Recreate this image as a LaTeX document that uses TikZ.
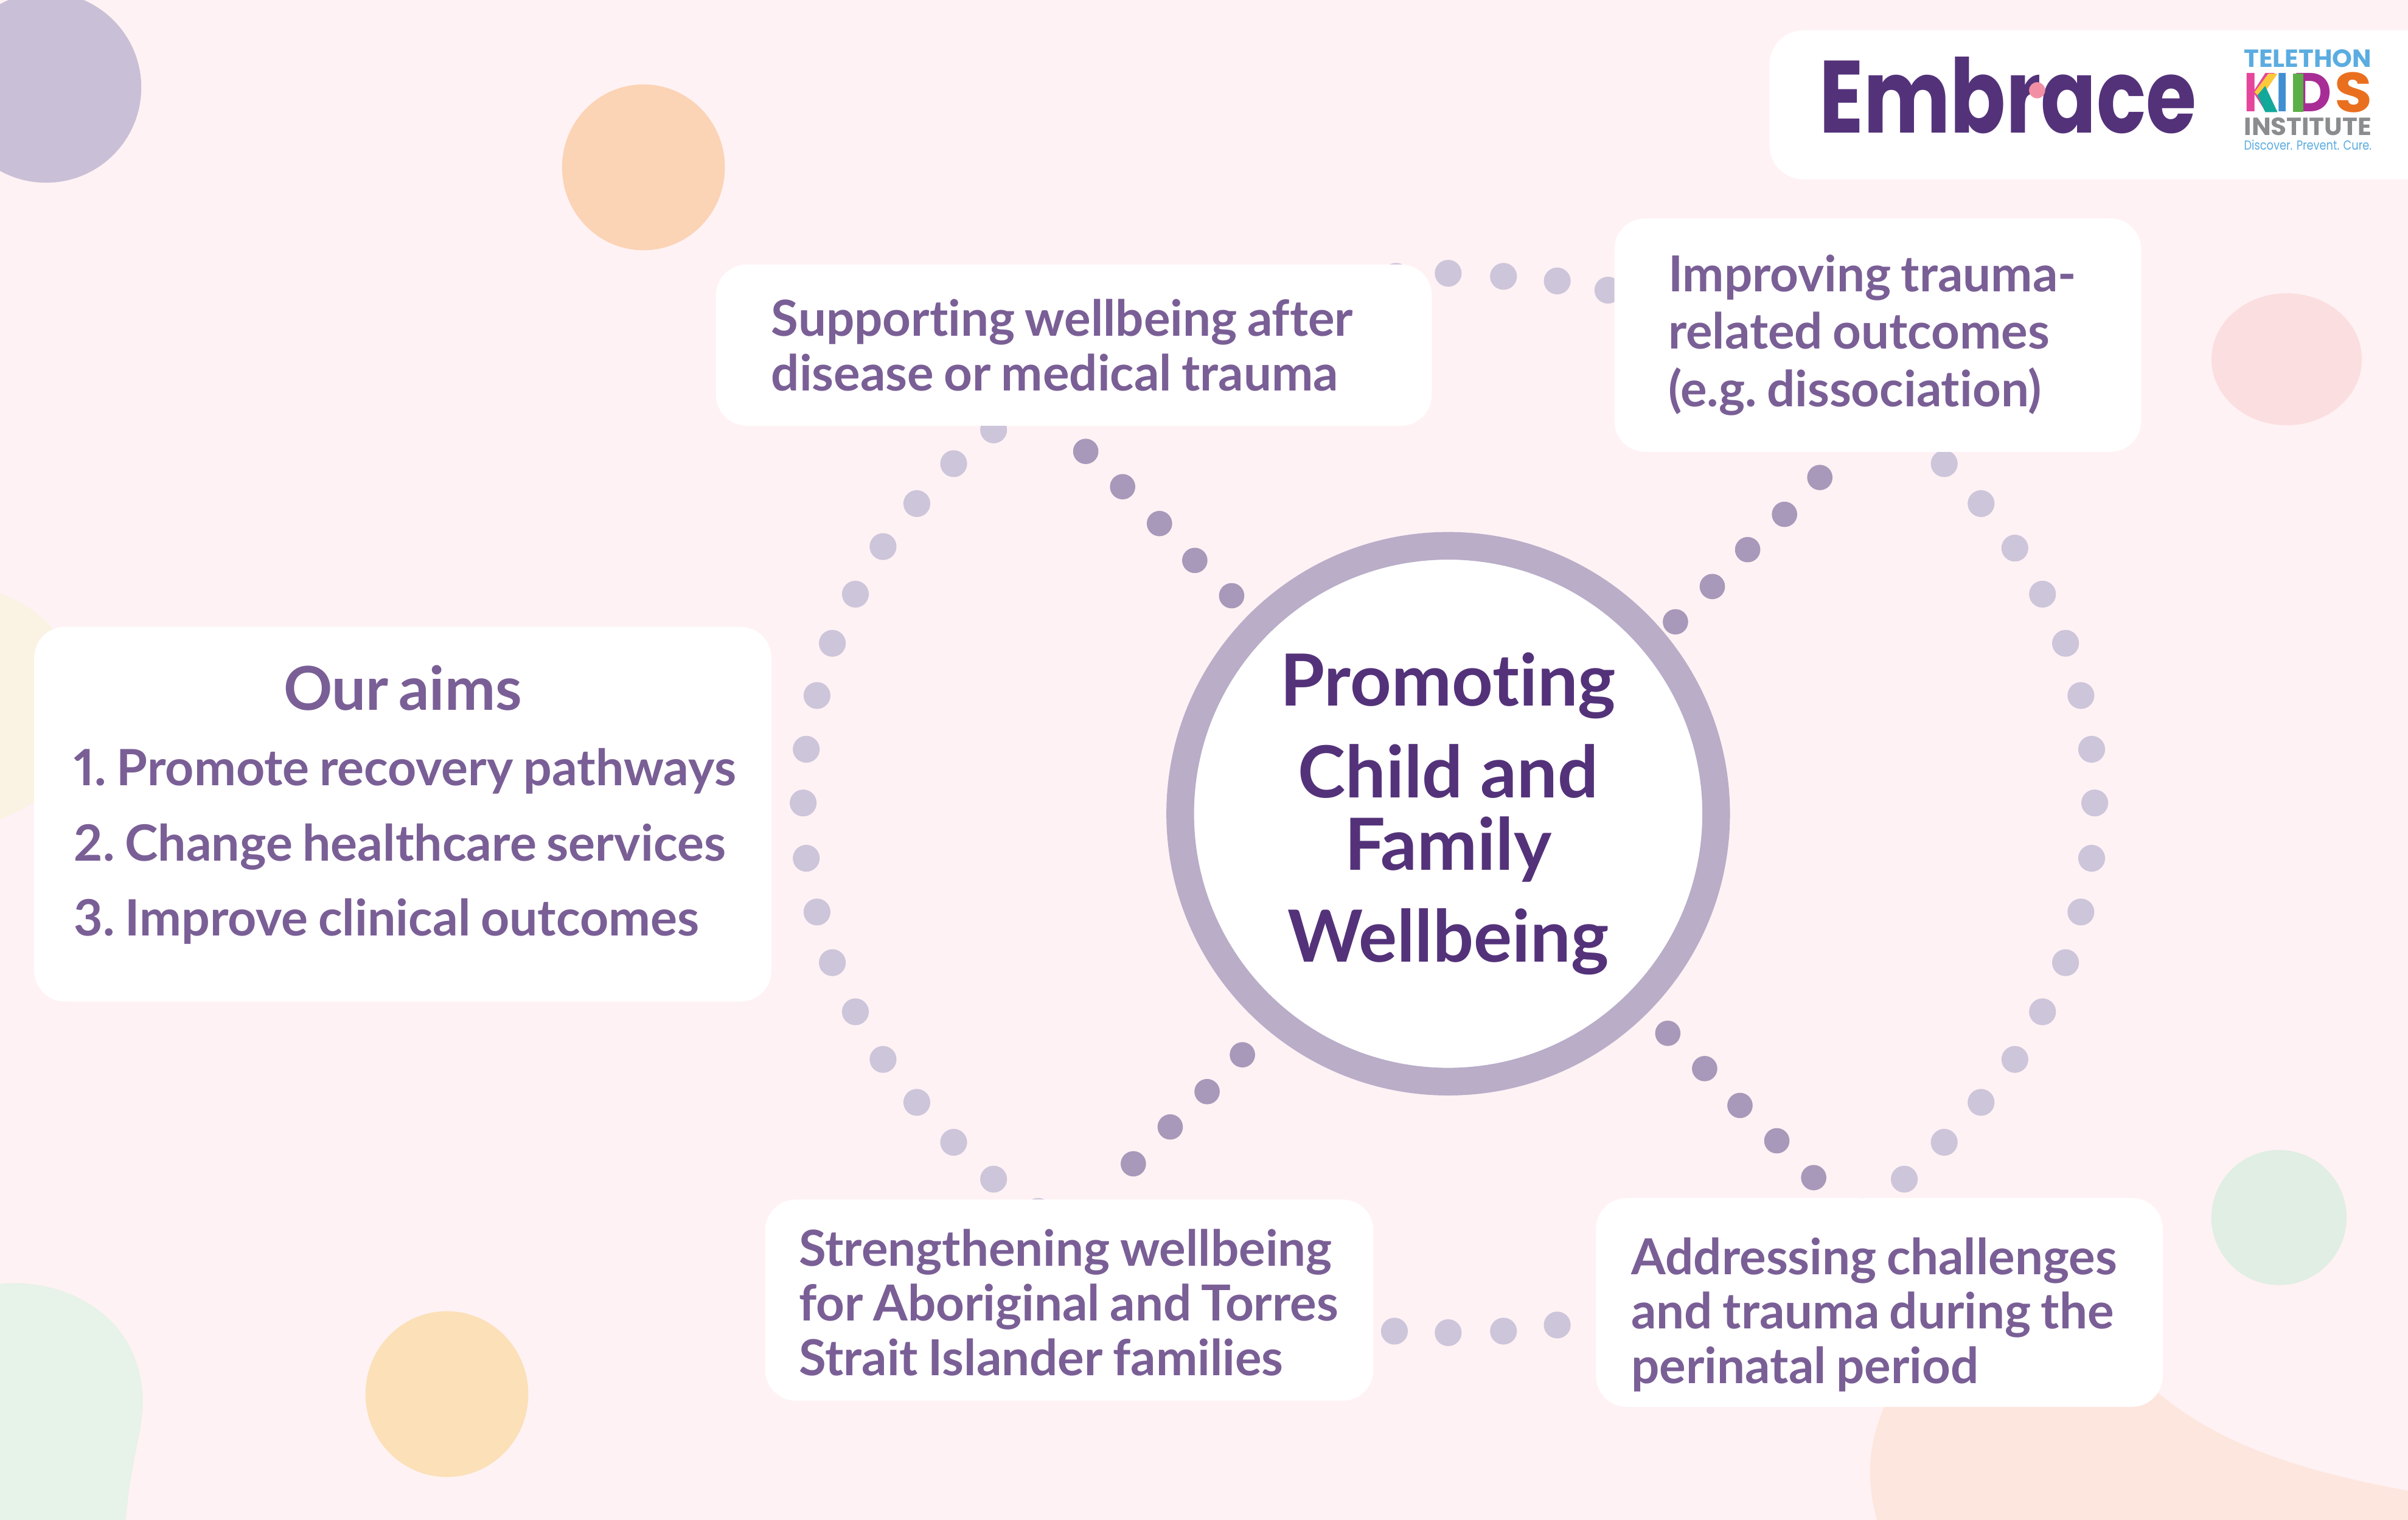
\documentclass[tikz,border=0pt]{standalone}
\usepackage{fontspec}
\usepackage{graphicx}
\setmainfont{Lato}[Ligatures=NoCommon,Numbers=Proportional]
\newfontfamily\logofont{Poppins}
\newdimen\myu \myu=0.025cm
\definecolor{bgpink}{HTML}{FFF2F4}
\definecolor{txtpurple}{HTML}{7A5F96}
\definecolor{deeppurple}{HTML}{54327A}
\definecolor{ringc}{HTML}{B9ADC8}
\definecolor{lightd}{HTML}{CDC5DA}
\definecolor{darkd}{HTML}{A898B9}
\definecolor{kidblue}{HTML}{5BACE0}
\definecolor{kidpink}{HTML}{E5459B}
\definecolor{kidyellow}{HTML}{FBC93B}
\definecolor{kidteal}{HTML}{12A89A}
\definecolor{kidlblue}{HTML}{3F8FD2}
\definecolor{kidgreen}{HTML}{5BAF47}
\definecolor{kidpurple}{HTML}{A82C96}
\definecolor{kidorange}{HTML}{E96F1E}
\definecolor{kidgrey}{HTML}{8A8C8E}
\tikzset{
  cardbox/.style n args={3}{draw=none,fill=white,rounded corners=20*\myu,anchor=north west,inner sep=0pt,
    minimum width=#1*\myu,minimum height=#2*\myu,text width=#1*\myu,align=left,text=txtpurple,
    font=\fontsize{23pt}{25.3pt}\selectfont\bfseries,
    execute at begin node={\leftskip=#3\myu\relax\spaceskip=6.5\myu\relax\xspaceskip=6.5\myu\relax}},
  lightdot/.style={circle,fill=lightd,inner sep=0pt,minimum size=17.5*\myu},
  darkdot/.style={circle,fill=darkd,inner sep=0pt,minimum size=16.5*\myu},
  logotext/.style={inner sep=0pt,anchor=south west},
}
\begin{document}
\begin{tikzpicture}[x=0.025cm,y=-0.025cm]
\useasboundingbox (0,0) rectangle (1568,989.9);
\clip (0,0) rectangle (1568,989.9);
\fill[bgpink] (0,0) rectangle (1568,990);
% background blobs
\fill[fill={rgb,255:red,201;green,191;blue,214}] (30,57) ellipse [x radius=62,y radius=62];
\fill[fill={rgb,255:red,251;green,211;blue,181}] (419,109) ellipse [x radius=53,y radius=54];
\fill[fill={rgb,255:red,251;green,223;blue,224}] (1489,234) ellipse [x radius=49,y radius=43];
\fill[fill={rgb,255:red,224;green,238;blue,227}] (1484,793) ellipse [x radius=44,y radius=44];
\fill[fill={rgb,255:red,251;green,224;blue,184}] (291,908) ellipse [x radius=53,y radius=54];
\fill[fill={rgb,255:red,250;green,243;blue,227}] (-24.4,460) ellipse [x radius=77.4,y radius=77.4];
\fill[fill={rgb,255:red,231;green,242;blue,232}] (-10,990) -- (-10,838) .. controls (30,828) and (92,850) .. (93,912) .. controls (93,935) and (85,950) .. (82,990) -- cycle;
\fill[fill={rgb,255:red,253;green,230;blue,222}] (1222,990) .. controls (1216,965) and (1215,945) .. (1227,916) .. controls (1260,860) and (1350,860) .. (1405,907) .. controls (1450,945) and (1510,960) .. (1568,971) -- (1568,990) -- cycle;
% dotted rings
\foreach \x/\y [count=\i] in {647/280,621/302,597/328,575/356,557/387,542/419,532/453,525/488,523/523,525/559,532/594,542/627,557/659,575/690,597/718,621/744,647/768,676/789,
 909/180,943/178,979/180,1014/183,1047/189,
 1266/302,1290/328,1312/357,1330/387,1345/419,1355/453,1362/488,1364/523,1362/559,1355/594,1345/627,1330/659,1312/690,1290/718,1266/744,1240/768,1212/789,
 908/867,943/868,979/867,1014/863}
  \node[lightdot] (ld\i) at (\x,\y) {};
\foreach \x/\y [count=\i] in {707/294,731/317,755/341,778/365,802/388,
 1185/311,1162/335,1138/358,1115/382,1091/405,
 809/687,786/711,762/734,738/758,
 1086/673,1110/696,1133/720,1157/743,1181/767}
  \node[darkdot] (dd\i) at (\x,\y) {};
% centre
\node[circle,draw=ringc,line width=18*\myu,fill=white,inner sep=0pt,minimum size=349*\myu,align=center,text=deeppurple,
  font=\fontsize{33.3pt}{33.4pt}\selectfont\bfseries] (hub) at (943,530)
  {Promoting\\[13\myu]Child and\\Family\\[13\myu]Wellbeing};
% cards
\node[cardbox={466}{105}{36}] (c1) at (466,172) {Supporting wellbeing after\\disease or medical trauma};
\node[cardbox={343}{152}{35},font=\fontsize{23pt}{26.7pt}\selectfont\bfseries] (c2) at (1051,142) {Improving trauma-\\related outcomes\\(e.g. dissociation)};
\node[cardbox={396}{131}{22}] (c3) at (498,781) {\rule{0pt}{27\myu}Strengthening wellbeing\\for Aboriginal and Torres\\Strait Islander families};
\node[cardbox={369}{136}{23}] (c4) at (1039,780) {\rule{0pt}{40\myu}Addressing challenges\\and trauma during the\\perinatal period};
\node[cardbox={480}{244}{26},font=\fontsize{23.2pt}{34.85pt}\selectfont\bfseries] (aims) at (22,408)
  {\hspace*{-26\myu}\makebox[480\myu][c]{\fontsize{28pt}{30pt}\selectfont Our aims}\\1. Promote recovery pathways\\2. Change healthcare services\\3. Improve clinical outcomes\par\vspace*{12\myu}};
% logo panel
\node[fill=white,rounded corners=22*\myu,anchor=north west,inner sep=0pt,minimum width=460*\myu,minimum height=97*\myu] (panel) at (1152,19.5) {};
\node[logotext,text=deeppurple] (embrace) at (1184.5,87.5) {\resizebox{245.5\myu}{49.5\myu}{\logofont\bfseries Embrace}};
\node[circle,fill={rgb,255:red,243;green,143;blue,165},inner sep=0pt,minimum size=10.5*\myu] (edot) at (1326.5,58.8) {};
\node[logotext,text=kidblue] (tele) at (1461,44) {\resizebox{83\myu}{11.5\myu}{\logofont\bfseries TELETHON}};
\node[logotext,text=kidpink] (kk) at (1461,73) {\resizebox{21\myu}{25\myu}{\logofont\bfseries K}};
\node[logotext,text=kidlblue] (ki) at (1482,73) {\resizebox{8\myu}{25\myu}{\logofont\bfseries I}};
\node[logotext,text=kidpurple] (kd) at (1493,73) {\resizebox{25\myu}{25\myu}{\logofont\bfseries D}};
\node[logotext,text=kidorange] (ks) at (1520,73.5) {\resizebox{24.5\myu}{26\myu}{\logofont\bfseries S}};
\fill[kidyellow] (1468,60) -- (1477,48) -- (1483,48) -- (1472,64) -- cycle;
\fill[kidteal] (1470,62) -- (1475,56) -- (1483,73) -- (1475,73) -- cycle;
\fill[kidgreen] (1493,48) rectangle (1500,73);
\node[logotext,text=kidgrey] (inst) at (1461,88.5) {\resizebox{83\myu}{11.5\myu}{\logofont\bfseries INSTITUTE}};
\node[logotext,text=kidblue] (disc) at (1461,98) {\resizebox{83\myu}{6.5\myu}{\logofont Discover. Prevent. Cure.}};
\end{tikzpicture}
\end{document}
